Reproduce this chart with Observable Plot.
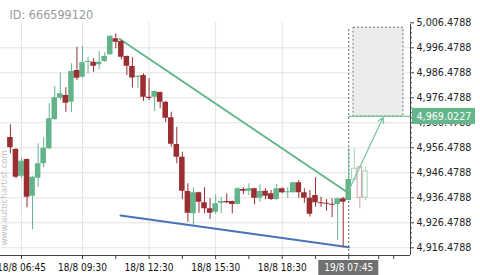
<!DOCTYPE html>
<html><head><meta charset="utf-8">
<script src="https://cdn.jsdelivr.net/npm/d3@7"></script>
<script src="https://cdn.jsdelivr.net/npm/@observablehq/plot@0.6"></script>
<style>html,body{margin:0;padding:0;background:#fff;} svg{display:block}</style>
</head><body><div id="chart"></div>
<script>
// ---- data (15-minute candles, bar index 0..61) ----
const opens = [4960.6,4955.8,4945.1,4951.8,4937.1,4944.3,4950.1,4956.1,4967.8,4976.3,4977.4,4974.7,4987.4,4984.7,4990.6,4990.7,4989.7,4991.0,4993.7,5000.1,4999.0,4993.0,4989.0,4984.7,4985.4,4976.7,4976.7,4978.6,4974.7,4968.5,4957.8,4952.7,4939.0,4930.1,4938.5,4934.5,4932.1,4930.7,4934.3,4935.0,4935.0,4933.8,4939.8,4939.1,4940.1,4936.3,4939.1,4938.1,4935.8,4940.1,4938.5,4938.5,4942.5,4938.5,4936.3,4937.4,4934.5,4934.3,4933.9,4933.8,4936.1,4935.4];
const highs = [4965.7,4956.2,4952.3,4952.0,4945.1,4958.1,4960.5,4974.1,4981.0,4986.5,4980.5,4990.1,4996.7,4997.1,4992.7,4992.1,4995.0,4994.5,5001.4,5002.1,4999.4,4993.2,4992.5,4985.4,4986.1,4984.1,4979.2,4978.8,4975.0,4970.7,4964.7,4954.7,4942.1,4940.5,4938.7,4940.5,4936.1,4937.7,4936.7,4938.1,4935.2,4940.5,4940.5,4942.1,4940.3,4941.7,4940.1,4939.4,4941.8,4940.5,4940.5,4942.7,4943.4,4940.1,4939.4,4944.5,4936.7,4935.8,4936.1,4936.3,4936.7,4956.1];
const lows = [4954.1,4944.1,4944.2,4932.5,4923.7,4940.7,4948.5,4955.7,4967.4,4975.4,4970.7,4970.5,4983.4,4984.3,4986.1,4986.7,4987.7,4990.7,4993.4,4996.1,4991.7,4985.4,4980.4,4980.1,4975.0,4975.4,4971.0,4972.1,4966.5,4956.7,4950.1,4935.7,4926.7,4925.4,4930.3,4930.1,4927.8,4929.8,4930.1,4934.1,4930.1,4933.7,4937.7,4937.4,4933.7,4934.7,4935.7,4935.4,4935.4,4938.1,4936.3,4938.3,4936.3,4934.3,4928.8,4932.7,4932.7,4931.1,4928.5,4919.4,4916.7,4935.4];
const closes = [4956.5,4944.7,4951.1,4936.7,4944.7,4950.1,4956.3,4968.1,4976.5,4978.1,4974.3,4987.0,4984.3,4990.5,4991.0,4989.1,4990.7,4993.0,5001.1,4998.7,4992.7,4989.1,4984.4,4985.1,4976.7,4976.2,4979.0,4974.7,4968.3,4957.9,4952.7,4939.1,4930.3,4938.5,4934.7,4932.1,4930.3,4934.1,4935.0,4934.5,4933.8,4940.1,4939.1,4940.1,4936.3,4939.0,4937.1,4935.8,4940.1,4938.5,4938.9,4942.5,4938.5,4936.3,4929.9,4934.5,4934.1,4933.9,4933.5,4936.1,4934.7,4943.8];

// faded candles after the pattern end (bar index 62..64)
const futIndex = [62, 63, 64];
const futOpen  = [4943.8, 4948.7, 4936.5];
const futHigh  = [4956.1, 4948.7, 4948.7];
const futLow   = [4943.8, 4932.1, 4935.4];
const futClose = [4948.1, 4936.5, 4947.0];

// pattern lines [barIndex, price]
const resistance = [[19.7, 5000.0], [60.8, 4938.6]];
const support    = [[19.85, 4929.4], [61.0, 4916.7]];

// forecast
const patternEnd = 61;
const targetPrice = 4969.0227;
const targetTop = 5004.5;
const targetZone = [61.85, 70.87];
const arrowFrom = [61.0, 4939.4];
const arrowTo   = [67.2, 4968.6];

// axes
const xTickIndex = [2, 13, 25, 37, 49];
const xTickLabels = ["18/8 06:45", "18/8 09:30", "18/8 12:30", "18/8 15:30", "18/8 18:30"];
const xMinorIndex = [19, 31, 43, 55, 66.4, 69.1];
const currentLabel = "19/8 07:45";
const yTicks = [4916.4788, 4926.4788, 4936.4788, 4946.4788, 4956.4788, 4966.4788, 4976.4788, 4986.4788, 4996.4788, 5006.4788];
const idText = "ID: 666599120";
const watermark = "www.autochartist.com";

// ---- build ----
const xDomain = [-1.785, 72.13];
const yDomain = [4913.4, 5006.6];
const W = 480, H = 275, mT = 22, mB = 20, mL = 0, mR = 70;
const pxPerX = (W - mL - mR) / (xDomain[1] - xDomain[0]);
const pxPerY = (H - mT - mB) / (yDomain[1] - yDomain[0]);
const dxu = px => px / pxPerX;   // pixels -> index units
const dyu = px => px / pxPerY;   // pixels -> price units

const GREEN = "#63b48b", RED = "#9b2e33", BLUE = "#4773b8", TGREEN = "#62b68a";
const LGREEN = "#9fd4b8", LRED = "#d8a2a6", ARROW = "#7cc6a0";
const AX = "#444";
const FONT = "DejaVu Sans";
const FONTC = "DejaVu Sans Condensed, DejaVu Sans";

const candles = opens.map((o, i) => ({i, open: o, high: highs[i], low: lows[i], close: closes[i]}));
const ups = candles.filter(d => d.close >= d.open);
const downs = candles.filter(d => d.close < d.open);
const fut = futIndex.map((x, k) => ({i: x, open: futOpen[k], high: futHigh[k], low: futLow[k], close: futClose[k]}));
const futUp = fut.filter(d => d.close >= d.open);
const futDown = fut.filter(d => d.close < d.open);
const hw = 0.5;
const yMinor = [];
yTicks.slice(0, -1).forEach(t => [2, 4, 6, 8].forEach(s => yMinor.push(t + s)));
const fmt = d3.format(",.4f");
const xEnd = xDomain[1], yBot = yDomain[0];

const chart = Plot.plot({
  width: W, height: H,
  marginTop: mT, marginBottom: mB, marginLeft: mL, marginRight: mR,
  x: {domain: xDomain, axis: null},
  y: {domain: yDomain, axis: null},
  style: {background: "#fff", fontFamily: FONT, overflow: "visible"},
  marks: [
    // grid
    Plot.ruleY(yTicks.slice(0, -1), {stroke: "#e3e3e3", strokeWidth: 1}),
    Plot.ruleX(xTickIndex, {stroke: "#e3e3e3", strokeWidth: 1}),
    // target zone
    Plot.rect([0], {x1: targetZone[0], x2: targetZone[1], y1: targetPrice, y2: targetTop,
      fill: "#ececec", stroke: "#777", strokeWidth: 1, strokeDasharray: "2,2"}),
    Plot.ruleX([patternEnd], {y1: yBot, y2: targetTop, stroke: "#666", strokeDasharray: "2,2"}),
    // pattern lines
    Plot.line(resistance, {x: d => d[0], y: d => d[1], stroke: TGREEN, strokeWidth: 2}),
    Plot.line(support, {x: d => d[0], y: d => d[1], stroke: BLUE, strokeWidth: 2}),
    // candles
    Plot.ruleX(ups, {x: "i", y1: "low", y2: "high", stroke: GREEN}),
    Plot.ruleX(downs, {x: "i", y1: "low", y2: "high", stroke: RED}),
    Plot.rect(ups, {x1: d => d.i - hw, x2: d => d.i + hw, y1: "open", y2: "close", fill: GREEN}),
    Plot.rect(downs, {x1: d => d.i - hw, x2: d => d.i + hw, y1: "open", y2: "close", fill: RED}),
    // faded candles
    Plot.ruleX(futUp, {x: "i", y1: "low", y2: "high", stroke: LGREEN}),
    Plot.ruleX(futDown, {x: "i", y1: "low", y2: "high", stroke: LRED}),
    Plot.rect(futUp, {x1: d => d.i - hw + 0.1, x2: d => d.i + hw - 0.1, y1: "open", y2: "close", fill: "#fff", stroke: LGREEN}),
    Plot.rect(futDown, {x1: d => d.i - hw + 0.1, x2: d => d.i + hw - 0.1, y1: "open", y2: "close", fill: "#fff", stroke: LRED}),
    // target line + arrow
    Plot.ruleY([targetPrice], {x1: patternEnd, x2: xEnd, stroke: ARROW, strokeWidth: 1.2}),
    Plot.arrow([0], {x1: arrowFrom[0], y1: arrowFrom[1], x2: arrowTo[0], y2: arrowTo[1],
      stroke: ARROW, strokeWidth: 1.3, headLength: 7}),
    // y axis
    Plot.ruleX([xEnd], {y1: yBot, y2: 5005.9, stroke: AX}),
    Plot.ruleY(yTicks, {x1: xEnd, x2: xEnd + dxu(4), stroke: AX}),
    Plot.ruleY(yMinor, {x1: xEnd, x2: xEnd + dxu(2), stroke: AX}),
    Plot.text(yTicks, {x: xEnd, y: d => d, dx: 6, textAnchor: "start", text: d => fmt(d),
      fill: "#222", fontSize: 9.6, fontFamily: FONT}),
    // target label
    Plot.rect([0], {x1: xEnd + dxu(2), x2: xEnd + dxu(65), y1: targetPrice - dyu(8), y2: targetPrice + dyu(8), fill: TGREEN}),
    Plot.text([targetPrice], {x: xEnd, y: d => d, dx: 6, textAnchor: "start", text: d => fmt(d),
      fill: "#fff", fontSize: 9.6, fontFamily: FONT}),
    // x axis
    Plot.ruleY([yBot], {x1: xDomain[0], x2: xEnd, stroke: AX}),
    Plot.ruleX(xTickIndex.concat(xMinorIndex, [patternEnd]), {y1: yBot, y2: yBot - dyu(4), stroke: AX}),
    Plot.text(xTickIndex, {x: d => d, y: yBot, dy: 12, text: (d, i) => xTickLabels[i],
      fill: "#111", fontSize: 10, fontFamily: FONTC}),
    Plot.rect([0], {x1: patternEnd - dxu(30), x2: patternEnd + dxu(30), y1: yBot - dyu(5), y2: yBot - dyu(21), fill: "#707070"}),
    Plot.text([patternEnd], {x: d => d, y: yBot, dy: 12, text: [currentLabel],
      fill: "#fff", fontSize: 10, fontFamily: FONTC}),
    // decorations
    Plot.text([idText], {frameAnchor: "top-left", dx: 9, dy: -12.5, text: d => d, textAnchor: "start",
      fill: "#9a9a9a", fontSize: 12.5, fontFamily: FONTC}),
    Plot.text([watermark], {frameAnchor: "bottom-left", dx: 6, dy: -10, rotate: -90, textAnchor: "start",
      text: d => d, fill: "#c4c4c4", fontSize: 9.5, fontFamily: FONTC})
  ]
});
document.getElementById("chart").appendChild(chart);
</script>
</body></html>
